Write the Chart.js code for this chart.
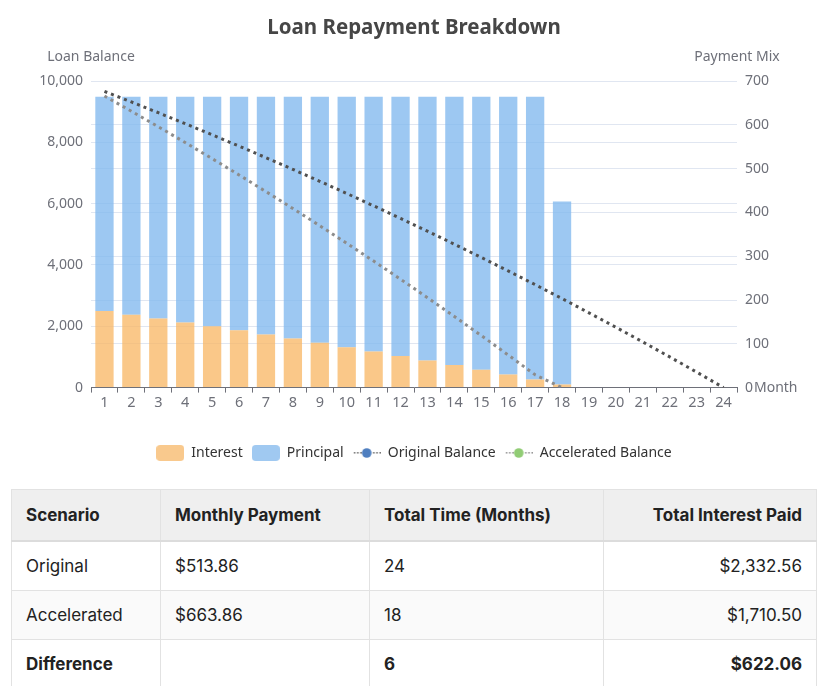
<!DOCTYPE html>
<html>
<head>
<meta charset="utf-8">
<script src="https://cdn.jsdelivr.net/npm/chart.js@4.4.0/dist/chart.umd.min.js"></script>
<style>
  html, body { margin: 0; padding: 0; background: #fff; }
  body { width: 828px; height: 686px; overflow: hidden; font-family: 'Noto Sans', sans-serif; }
  #chartBox { position: relative; width: 828px; height: 476px; }
  table {
    margin: 13px 0 0 11px; width: 806px; border-collapse: collapse;
    font-family: 'Inter', sans-serif; font-size: 17px; color: #222;
  }
  th, td { border: 1px solid #e2e2e2; padding: 0 14px; text-align: left; }
  th { height: 50px; background: #efefef; font-weight: 700; border-bottom: 2px solid #dcdcdc; }
  td { height: 48px; }
  tbody tr:nth-child(2) td { background: #fafafa; }
  tr.total td { font-weight: 700; }
  th:last-child, td:last-child { text-align: right; }
</style>
</head>
<body>
<div id="chartBox"><canvas id="chart"></canvas></div>
<table>
  <thead>
    <tr><th style="width:120px">Scenario</th><th style="width:180px">Monthly Payment</th><th style="width:205px">Total Time (Months)</th><th>Total Interest Paid</th></tr>
  </thead>
  <tbody>
    <tr><td>Original</td><td>$513.86</td><td>24</td><td>$2,332.56</td></tr>
    <tr><td>Accelerated</td><td>$663.86</td><td>18</td><td>$1,710.50</td></tr>
    <tr class="total"><td>Difference</td><td></td><td>6</td><td>$622.06</td></tr>
  </tbody>
</table>
<script>
/* ─── Data ─── */
const months = ['1','2','3','4','5','6','7','8','9','10','11','12',
                '13','14','15','16','17','18','19','20','21','22','23','24'];

// accelerated schedule, per payment
const interestPaid = [175.00, 166.45, 157.74, 148.88, 139.87, 130.70, 121.37, 111.88, 102.22,
                      92.39, 82.39, 72.21, 61.86, 51.32, 40.60, 29.70, 18.60, 7.31];
const principalPaid = [488.86, 497.41, 506.12, 514.98, 523.99, 533.16, 542.49, 551.98, 561.64,
                       571.47, 581.47, 591.65, 602.00, 612.54, 623.26, 634.16, 645.26, 417.56];

// balance after each payment
const originalBalance = [9661.14, 9316.35, 8965.53, 8608.57, 8245.36, 7875.79, 7499.76, 7117.15,
                         6727.84, 6331.72, 5928.67, 5518.56, 5101.27, 4676.68, 4244.66, 3805.08,
                         3357.81, 2902.71, 2439.65, 1968.48, 1489.07, 1001.27, 504.93, 0];
const acceleratedBalance = [9511.14, 9013.73, 8507.61, 7992.63, 7468.64, 6935.48, 6392.99, 5841.01,
                            5279.37, 4707.90, 4126.43, 3534.78, 2932.78, 2320.24, 1696.98, 1062.82,
                            417.56, 0];

const AXIS_TEXT = '#6E7079';
const GRID = '#E0E6F1';
const FONT = "'Noto Sans', sans-serif";

/* ─── legend icons ─── */
function rectIcon(color) {
  const c = document.createElement('canvas');
  c.width = 28; c.height = 16;
  const g = c.getContext('2d');
  g.fillStyle = color;
  g.beginPath();
  g.roundRect(0, 0, 28, 16, 4);
  g.fill();
  return c;
}
function lineIcon(lineColor, dotColor) {
  const c = document.createElement('canvas');
  c.width = 28; c.height = 12;
  const g = c.getContext('2d');
  g.fillStyle = lineColor;
  for (let x = 1; x < 28; x += 3.2) {
    if (x > 9 && x < 19) continue;
    g.fillRect(x, 5, 1.6, 1.6);
  }
  g.fillStyle = dotColor;
  g.beginPath();
  g.arc(14, 6, 4.8, 0, Math.PI * 2);
  g.fill();
  return c;
}

/* ─── title + axis names drawn on top ─── */
const axisNames = {
  id: 'axisNames',
  afterDraw(chart) {
    const { ctx, chartArea } = chart;
    ctx.save();
    ctx.fillStyle = '#464646';
    ctx.font = `bold 20.5px ${FONT}`;
    ctx.textAlign = 'center';
    ctx.textBaseline = 'middle';
    ctx.fillText('Loan Repayment Breakdown', 414, 28);

    ctx.fillStyle = AXIS_TEXT;
    ctx.font = `14px ${FONT}`;
    ctx.fillText('Loan Balance', chartArea.left, 57);
    ctx.fillText('Payment Mix', chartArea.right, 57);
    ctx.textAlign = 'left';
    ctx.fillText('Month', chartArea.right + 17, chartArea.bottom);
    ctx.restore();
  }
};

const ctx = document.getElementById('chart').getContext('2d');
new Chart(ctx, {
  data: {
    labels: months,
    datasets: [
      {
        type: 'bar', label: 'Interest', data: interestPaid, yAxisID: 'y1', stack: 'pay',
        backgroundColor: 'rgba(248,183,100,0.76)', icon: rectIcon('#F9C98D'),
        barPercentage: 0.68, categoryPercentage: 1, order: 2
      },
      {
        type: 'bar', label: 'Principal', data: principalPaid, yAxisID: 'y1', stack: 'pay',
        backgroundColor: 'rgba(130,185,238,0.78)', icon: rectIcon('#A0C9F1'),
        barPercentage: 0.68, categoryPercentage: 1, order: 2
      },
      {
        type: 'line', label: 'Original Balance', data: originalBalance, yAxisID: 'y',
        borderColor: '#505050', borderWidth: 3, borderDash: [3, 4], pointRadius: 0,
        tension: 0, icon: lineIcon('#777', '#4F7FC0'), order: 1
      },
      {
        type: 'line', label: 'Accelerated Balance', data: acceleratedBalance, yAxisID: 'y',
        borderColor: '#8C8C8C', borderWidth: 3, borderDash: [3, 4], pointRadius: 0,
        tension: 0, icon: lineIcon('#999', '#91CC75'), order: 1
      }
    ]
  },
  options: {
    responsive: true,
    maintainAspectRatio: false,
    animation: false,
    layout: { padding: { top: 81, left: 0, right: 0, bottom: 6 } },
    plugins: {
      title: { display: false },
      tooltip: { enabled: false },
      legend: {
        position: 'bottom',
        labels: {
          usePointStyle: true,
          pointStyleWidth: 28,
          boxHeight: 14,
          padding: 9,
          color: '#333',
          font: { size: 14, family: FONT },
          generateLabels: chart => chart.data.datasets.map((ds, i) => ({
            text: ds.label, pointStyle: ds.icon, datasetIndex: i,
            fontColor: '#333', lineWidth: 0, strokeStyle: 'transparent', fillStyle: 'transparent'
          }))
        }
      }
    },
    scales: {
      x: {
        stacked: true,
        offset: true,
        afterFit: s => { s.height += 23; },
        grid: { display: true, drawOnChartArea: false, drawTicks: true, tickLength: 5, color: AXIS_TEXT, offset: true },
        border: { display: true, color: AXIS_TEXT, width: 1 },
        ticks: { color: AXIS_TEXT, font: { size: 14.5, family: FONT }, padding: 2, maxRotation: 0, autoSkip: false }
      },
      y: {
        position: 'left',
        stacked: false,
        min: 0, max: 10000,
        afterFit: s => { s.width = 91; },
        grid: { color: GRID, drawTicks: false },
        border: { display: false },
        ticks: {
          stepSize: 2000, padding: 8, color: AXIS_TEXT, font: { size: 14, family: FONT },
          callback: v => v.toLocaleString('en-US')
        }
      },
      y1: {
        position: 'right',
        stacked: true,
        min: 0, max: 700,
        afterFit: s => { s.width = 91; },
        grid: { color: GRID, drawTicks: false },
        border: { display: false },
        ticks: { stepSize: 100, padding: 8, color: AXIS_TEXT, font: { size: 14, family: FONT } }
      }
    }
  },
  plugins: [axisNames]
});
</script>
</body>
</html>
